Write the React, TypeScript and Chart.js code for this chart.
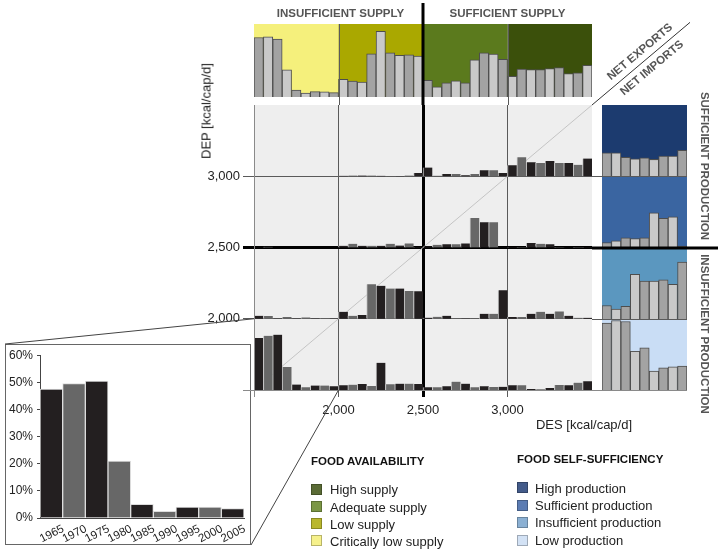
import React, { useEffect, useRef } from 'react';
import { Chart, registerables } from 'chart.js';

Chart.register(...registerables);

const FONT = "'Liberation Sans', Arial, Helvetica, sans-serif";
Chart.defaults.font.family = FONT;
Chart.defaults.color = '#222';

// ---------------- data ----------------
const YEARS = ['1965', '1970', '1975', '1980', '1985', '1990', '1995', '2000', '2005'];

// share of population (%) per DEP (production) class x DES (supply) class
const highProdCritLowSupply = [0, 0, 0, 0, 0, 0, 0, 0, 0];
const highProdLowSupply = [0.4, 0.6, 0.6, 0.6, 0.4, 0.2, 0.2, 0.6, 3];
const highProdAdequateSupply = [8, 0.5, 2, 2, 1, 2, 5.5, 5.5, 3];
const highProdHighSupply = [10, 17.4, 12.8, 12, 13.8, 12, 12, 10.4, 16.2];

const suffProdCritLowSupply = [0.3, 0.6, 0, 0, 0, 0, 0, 0, 0];
const suffProdLowSupply = [1.5, 3.4, 1.5, 1.5, 1.5, 3.4, 1.8, 3.7, 0.4];
const suffProdAdequateSupply = [1, 2.4, 3, 3, 3.7, 27, 23, 23, 0.2];
const suffProdHighSupply = [0.5, 0.5, 4, 3.4, 3, 0.5, 0.3, 0.5, 0.5];

const insuffProdCritLowSupply = [2.7, 2.4, 0.2, 1.5, 0.2, 1.2, 0.2, 0.4, 0.2];
const insuffProdLowSupply = [6.4, 2.7, 3.4, 31.5, 30, 27.5, 27.5, 25.4, 25];
const insuffProdAdequateSupply = [1, 1.8, 2.7, 0.3, 0.2, 0.2, 4.6, 4.6, 26];
const insuffProdHighSupply = [1.5, 1.5, 4.6, 6.4, 4.6, 6.7, 2.7, 0.9, 0.9];

const lowProdCritLowSupply = [47.5, 49.5, 50.5, 21, 5, 2.5, 4, 4, 3.5];
const lowProdLowSupply = [4.3, 4.9, 5.5, 3.7, 24.8, 5.2, 5.8, 5.8, 5.5];
const lowProdAdequateSupply = [2.4, 2.4, 3.4, 7.6, 5.8, 2.4, 3.4, 2.7, 3];
const lowProdHighSupply = [4.3, 4.3, 0.9, 0.6, 1.8, 4.6, 4.3, 6.7, 8];

// marginal totals (%)
const supplyCriticallyLow = [53, 53.6, 51.5, 24.3, 6.1, 3.6, 4.8, 4.5, 3.9];
const supplyLow = [15.8, 14.2, 13.3, 38.5, 58.5, 39.4, 37, 37.6, 36.4];
const supplyAdequate = [14.8, 9.1, 12.7, 14.5, 12.7, 33, 39.4, 38.2, 33.6];
const supplyHigh = [18.5, 24.8, 24.5, 24.5, 25.2, 26.1, 20.9, 21.5, 28.2];

const productionHigh = [21.2, 21.2, 17, 15.8, 16.7, 15.2, 18.2, 18.2, 23.4];
const productionSufficient = [4.8, 6.4, 9.1, 8.5, 9.1, 31.8, 26.7, 28.2, 1.8];
const productionInsufficient = [12.4, 9.1, 11.5, 40.9, 34.8, 34.8, 35.8, 31.8, 52.1];
const productionLow = [61.2, 63.6, 62.7, 35.5, 38.5, 17.3, 20.3, 21.2, 21.8];

// axes
const DES_TICKS = [1500, 2000, 2500, 3000];
const DEP_TICKS = [1500, 2000, 2500, 3000];
const AXIS_MIN = 1500;
const AXIS_MAX = 3500;
const THRESHOLD = 2500;
const CLASS_WIDTH = 500;
const SUPPLY_LOWER = [1500, 2000, 2500, 3000]; // columns
const PRODUCTION_LOWER = [3000, 2500, 2000, 1500]; // rows, top to bottom
const INSET_TICKS = [0, 10, 20, 30, 40, 50, 60];
const PCT_FULL = 65; // % that fills one class cell

const GRID_ROWS = [
  [highProdCritLowSupply, highProdLowSupply, highProdAdequateSupply, highProdHighSupply],
  [suffProdCritLowSupply, suffProdLowSupply, suffProdAdequateSupply, suffProdHighSupply],
  [insuffProdCritLowSupply, insuffProdLowSupply, insuffProdAdequateSupply, insuffProdHighSupply],
  [lowProdCritLowSupply, lowProdLowSupply, lowProdAdequateSupply, lowProdHighSupply],
];
const SUPPLY_GROUPS = [supplyCriticallyLow, supplyLow, supplyAdequate, supplyHigh];
const PRODUCTION_GROUPS = [productionHigh, productionSufficient, productionInsufficient, productionLow];

// ---------------- styles ----------------
const W = 723;
const H = 553;
const GRID = { left: 254, top: 105, right: 592, bottom: 390 };
const TOP_PANEL = { left: 254, top: 24, width: 338, height: 73 };
const RIGHT_PANEL = { left: 602, width: 85 };
const INSET = { left: 5, top: 344, width: 246, height: 201 };

const SUPPLY_COLORS = ['#f5f07c', '#aaa800', '#5b7a1d', '#3b500b'];
const PRODUCTION_COLORS = ['#1c3b6f', '#3a65a1', '#5b97bf', '#c9ddf5'];
const LEGEND_SUPPLY = [
  ['High supply', '#5a6b35'],
  ['Adequate supply', '#7b9645'],
  ['Low supply', '#b9b72d'],
  ['Critically low supply', '#f6f18b'],
];
const LEGEND_PRODUCTION = [
  ['High production', '#435b8a'],
  ['Sufficient production', '#5b7cb3'],
  ['Insufficient production', '#8bb0d3'],
  ['Low production', '#d3e2f5'],
];
const BAR_DARK = '#231f20';
const BAR_MID = '#676767';
const MARG_DARK = '#a3a3a3';
const MARG_LIGHT = '#c9c9c9';

const baseOptions: any = {
  animation: false,
  responsive: false,
  devicePixelRatio: 1,
  events: [],
  plugins: { legend: { display: false }, tooltip: { enabled: false } },
};

const bandPlugin = (colors: string[], per: number) => ({
  id: 'bands',
  beforeDraw(chart: any) {
    const { ctx, chartArea: a, scales } = chart;
    const x = scales.x;
    const step = x.getPixelForValue(1) - x.getPixelForValue(0);
    ctx.save();
    colors.forEach((c, g) => {
      const l = x.getPixelForValue(g * per) - step / 2;
      ctx.fillStyle = c;
      ctx.fillRect(l, a.top, step * per, a.bottom - a.top);
    });
    ctx.restore();
  },
});

function marginalConfig(groups: number[][], colors: string[]) {
  const values = groups.flat();
  const labels = groups.flatMap((_, g) => YEARS.map((y) => `${g}:${y}`));
  return {
    type: 'bar',
    data: {
      labels,
      datasets: [
        {
          data: values,
          backgroundColor: values.map((_, i) => (i % 2 ? MARG_LIGHT : MARG_DARK)),
          borderColor: '#4d4d4d',
          borderWidth: 1,
          barPercentage: 1,
          categoryPercentage: 1,
        },
      ],
    },
    options: {
      ...baseOptions,
      layout: { padding: 0 },
      scales: { x: { display: false }, y: { display: false, min: 0, max: PCT_FULL } },
    },
    plugins: [bandPlugin(colors, YEARS.length)],
  };
}

function mainConfig() {
  const points: any[] = [];
  const colors: string[] = [];
  GRID_ROWS.forEach((row, r) =>
    row.forEach((vals, c) =>
      vals.forEach((v, i) => {
        const x = SUPPLY_LOWER[c] + ((i + 0.5) * CLASS_WIDTH) / YEARS.length;
        const base = PRODUCTION_LOWER[r];
        points.push({ x, y: [base, base + (v * CLASS_WIDTH) / PCT_FULL] });
        colors.push(i % 2 ? BAR_MID : BAR_DARK);
      })
    )
  );
  const isThr = (ctx: any) => ctx.tick && ctx.tick.value === THRESHOLD;
  const fmt = (v: any) => (Number(v) === AXIS_MIN ? '' : Number(v).toLocaleString('en-US'));
  const framePlugin = {
    id: 'frame',
    beforeDraw(chart: any) {
      const { ctx, chartArea: a } = chart;
      ctx.save();
      ctx.fillStyle = '#eeeeee';
      ctx.fillRect(a.left, a.top, a.right - a.left, a.bottom - a.top);
      ctx.restore();
    },
    afterDraw(chart: any) {
      const { ctx, chartArea: a, scales } = chart;
      const xs = scales.x;
      const ys = scales.y;
      ctx.save();
      // vertical extensions through the supply panel
      DES_TICKS.filter((v) => v !== AXIS_MIN).forEach((v) => {
        const px = Math.round(xs.getPixelForValue(v));
        const thick = v === THRESHOLD;
        ctx.strokeStyle = thick ? '#000' : '#5a5a5a';
        ctx.lineWidth = thick ? 3 : 1;
        ctx.beginPath();
        ctx.moveTo(px + (thick ? 0 : 0.5), thick ? 3 : TOP_PANEL.top);
        ctx.lineTo(px + (thick ? 0 : 0.5), a.top);
        ctx.stroke();
      });
      // horizontal extensions through the production panel
      DEP_TICKS.forEach((v) => {
        const py = Math.round(ys.getPixelForValue(v));
        const thick = v === THRESHOLD;
        ctx.strokeStyle = thick ? '#000' : v === AXIS_MIN ? '#8a8a8a' : '#5a5a5a';
        ctx.lineWidth = thick ? 3 : 1;
        ctx.beginPath();
        ctx.moveTo(a.right, py + (thick ? 0 : 0.5));
        ctx.lineTo(thick ? 718 : RIGHT_PANEL.left + RIGHT_PANEL.width, py + (thick ? 0 : 0.5));
        ctx.stroke();
      });
      // connectors to inset
      ctx.strokeStyle = '#444';
      ctx.lineWidth = 1;
      ctx.beginPath();
      ctx.moveTo(INSET.left, INSET.top);
      ctx.lineTo(xs.getPixelForValue(SUPPLY_LOWER[0]), ys.getPixelForValue(PRODUCTION_LOWER[2]));
      ctx.moveTo(INSET.left + INSET.width, INSET.top + INSET.height);
      ctx.lineTo(xs.getPixelForValue(SUPPLY_LOWER[1]), ys.getPixelForValue(PRODUCTION_LOWER[3]));
      ctx.stroke();
      ctx.restore();
    },
  };
  return {
    type: 'bar',
    data: {
      datasets: [
        {
          type: 'bar',
          data: points,
          backgroundColor: colors,
          borderColor: '#c6c6c6',
          borderWidth: { left: 1, right: 0, top: 0, bottom: 0 },
          borderSkipped: false,
          barPercentage: 1,
          categoryPercentage: 1,
          order: 1,
        },
        {
          type: 'line',
          data: [
            { x: AXIS_MIN, y: AXIS_MIN },
            { x: AXIS_MAX, y: AXIS_MAX },
          ],
          borderColor: '#c4c4c4',
          borderWidth: 1,
          pointRadius: 0,
          order: 2,
        },
        {
          type: 'line',
          data: [
            { x: AXIS_MAX, y: AXIS_MAX },
            { x: 4080, y: 4080 },
          ],
          borderColor: '#333',
          borderWidth: 1,
          pointRadius: 0,
          clip: false,
          order: 2,
        },
      ],
    },
    options: {
      ...baseOptions,
      layout: { padding: { left: 0, top: GRID.top, right: W - GRID.right, bottom: 0 } },
      scales: {
        x: {
          type: 'linear',
          min: AXIS_MIN,
          max: AXIS_MAX,
          offset: false,
          z: 1,
          afterFit: (s: any) => {
            s.height = H - GRID.bottom;
          },
          afterBuildTicks: (s: any) => {
            s.ticks = DES_TICKS.map((value) => ({ value }));
          },
          grid: {
            offset: false,
            color: (ctx: any) => (isThr(ctx) ? '#000' : ctx.tick && ctx.tick.value === AXIS_MIN ? '#8a8a8a' : '#5a5a5a'),
            lineWidth: (ctx: any) => (isThr(ctx) ? 3 : 1),
            tickLength: 7,
          },
          border: { color: '#8a8a8a', width: 1 },
          ticks: { callback: fmt, font: { size: 13 }, color: '#222', padding: 6, maxRotation: 0, autoSkip: false },
        },
        y: {
          type: 'linear',
          min: AXIS_MIN,
          max: AXIS_MAX,
          z: 1,
          afterFit: (s: any) => {
            s.width = GRID.left;
          },
          afterBuildTicks: (s: any) => {
            s.ticks = DEP_TICKS.map((value) => ({ value }));
          },
          grid: {
            color: (ctx: any) => (isThr(ctx) ? '#000' : ctx.tick && ctx.tick.value === AXIS_MIN ? '#8a8a8a' : '#5a5a5a'),
            lineWidth: (ctx: any) => (isThr(ctx) ? 3 : 1),
            tickLength: 11,
          },
          border: { color: '#8a8a8a', width: 1 },
          ticks: { callback: fmt, font: { size: 13 }, color: '#222', padding: 3, autoSkip: false },
        },
      },
    },
    plugins: [framePlugin],
  };
}

function insetConfig() {
  const boxPlugin = {
    id: 'box',
    afterDraw(chart: any) {
      const { ctx, width, height } = chart;
      ctx.save();
      ctx.strokeStyle = '#666';
      ctx.lineWidth = 1;
      ctx.strokeRect(0.5, 0.5, width - 1, height - 1);
      ctx.restore();
    },
  };
  return {
    type: 'bar',
    data: {
      labels: YEARS,
      datasets: [
        {
          data: lowProdCritLowSupply,
          backgroundColor: lowProdCritLowSupply.map((_, i) => (i % 2 ? BAR_MID : BAR_DARK)),
          borderColor: '#dcdcdc',
          borderWidth: { left: 1, right: 1, top: 1, bottom: 0 },
          barPercentage: 1,
          categoryPercentage: 1,
        },
      ],
    },
    options: {
      ...baseOptions,
      layout: { padding: { left: 0, top: 11, right: 7, bottom: 0 } },
      scales: {
        x: {
          afterFit: (s: any) => {
            s.height = 27;
          },
          grid: { display: false },
          border: { color: '#444', width: 1 },
          ticks: {
            font: { size: 11.5 },
            color: '#222',
            minRotation: 27,
            maxRotation: 27,
            padding: -4,
            autoSkip: false,
            labelOffset: 12,
          },
        },
        y: {
          min: INSET_TICKS[0],
          max: INSET_TICKS[INSET_TICKS.length - 1],
          afterFit: (s: any) => {
            s.width = 35;
          },
          afterBuildTicks: (s: any) => {
            s.ticks = INSET_TICKS.map((value) => ({ value }));
          },
          grid: { drawOnChartArea: false, tickLength: 3, color: '#444' },
          border: { color: '#444', width: 1 },
          ticks: { font: { size: 12 }, color: '#222', padding: 4, callback: (v: any) => `${v}%` },
        },
      },
    },
    plugins: [boxPlugin],
  };
}

function ChartCanvas(props: { make: () => any; left: number; top: number; width: number; height: number; z?: number }) {
  const ref = useRef<HTMLCanvasElement | null>(null);
  useEffect(() => {
    if (!ref.current) return;
    const chart = new Chart(ref.current, props.make());
    return () => chart.destroy();
  }, []);
  return (
    <canvas
      ref={ref}
      width={props.width}
      height={props.height}
      style={{
        position: 'absolute',
        left: props.left,
        top: props.top,
        width: props.width,
        height: props.height,
        zIndex: props.z ?? 1,
        pointerEvents: 'none',
      }}
    />
  );
}

function Text(props: { x: number; y: number; children: any; size?: number; bold?: boolean; color?: string; rotate?: number; left?: boolean }) {
  const { x, y, size = 13, bold, color = '#222', rotate = 0, left } = props;
  return (
    <div
      style={{
        position: 'absolute',
        left: x,
        top: y,
        fontSize: size,
        fontWeight: bold ? 700 : 400,
        color,
        whiteSpace: 'nowrap',
        lineHeight: 1,
        zIndex: 10,
        transform: left ? 'translateY(-50%)' : `translate(-50%, -50%) rotate(${rotate}deg)`,
      }}
    >
      {props.children}
    </div>
  );
}

function Legend(props: { x: number; textX: number; titleY: number; rowsY: number[]; title: string; items: string[][] }) {
  return (
    <>
      <Text x={props.x} y={props.titleY} size={11.5} bold left color="#111">
        {props.title}
      </Text>
      {props.items.map(([label, color], i) => (
        <React.Fragment key={label}>
          <div
            style={{
              position: 'absolute',
              left: props.x,
              top: props.rowsY[i] - 5.5,
              width: 11,
              height: 11,
              background: color,
              boxSizing: 'border-box',
              border: '1px solid rgba(0,0,0,0.25)',
            }}
          />
          <Text x={props.textX} y={props.rowsY[i]} left>
            {label}
          </Text>
        </React.Fragment>
      ))}
    </>
  );
}

export default function App() {
  const rowH = (GRID.bottom - GRID.top) / PRODUCTION_GROUPS.length;
  const bounds = PRODUCTION_GROUPS.map((_, r) => Math.round(GRID.top + r * rowH)).concat([GRID.bottom]);
  return (
    <div
      style={{
        position: 'fixed',
        left: 0,
        top: 0,
        width: W,
        height: H,
        background: '#fff',
        overflow: 'hidden',
        fontFamily: FONT,
      }}
    >
      <ChartCanvas
        make={() => marginalConfig(SUPPLY_GROUPS, SUPPLY_COLORS)}
        left={TOP_PANEL.left}
        top={TOP_PANEL.top}
        width={TOP_PANEL.width}
        height={TOP_PANEL.height}
      />
      {PRODUCTION_GROUPS.map((g, r) => (
        <ChartCanvas
          key={r}
          make={() => marginalConfig([g], [PRODUCTION_COLORS[r]])}
          left={RIGHT_PANEL.left}
          top={bounds[r]}
          width={RIGHT_PANEL.width}
          height={bounds[r + 1] - bounds[r]}
        />
      ))}
      <ChartCanvas make={insetConfig} left={INSET.left} top={INSET.top} width={INSET.width} height={INSET.height} />
      <ChartCanvas make={mainConfig} left={0} top={0} width={W} height={H} z={5} />

      <Text x={340.5} y={13.5} size={11.5} bold color="#555">
        INSUFFICIENT SUPPLY
      </Text>
      <Text x={507.5} y={13.5} size={11.5} bold color="#555">
        SUFFICIENT SUPPLY
      </Text>
      <Text x={704} y={166} size={11.5} bold color="#555" rotate={90}>
        SUFFICIENT PRODUCTION
      </Text>
      <Text x={704} y={334} size={11.5} bold color="#555" rotate={90}>
        INSUFFICIENT PRODUCTION
      </Text>
      <Text x={640} y={52} size={11.5} bold color="#555" rotate={-40}>
        NET EXPORTS
      </Text>
      <Text x={651.5} y={67.5} size={11.5} bold color="#555" rotate={-40}>
        NET IMPORTS
      </Text>
      <Text x={206} y={111} rotate={-90}>
        DEP [kcal/cap/d]
      </Text>
      <Text x={584} y={424}>
        DES [kcal/cap/d]
      </Text>

      <Legend
        x={311}
        textX={330}
        titleY={461.5}
        rowsY={[489, 506.5, 523.5, 540.5]}
        title="FOOD AVAILABILITY"
        items={LEGEND_SUPPLY}
      />
      <Legend
        x={517}
        textX={535}
        titleY={460}
        rowsY={[487.7, 505, 522.3, 540]}
        title="FOOD SELF-SUFFICIENCY"
        items={LEGEND_PRODUCTION}
      />
    </div>
  );
}
